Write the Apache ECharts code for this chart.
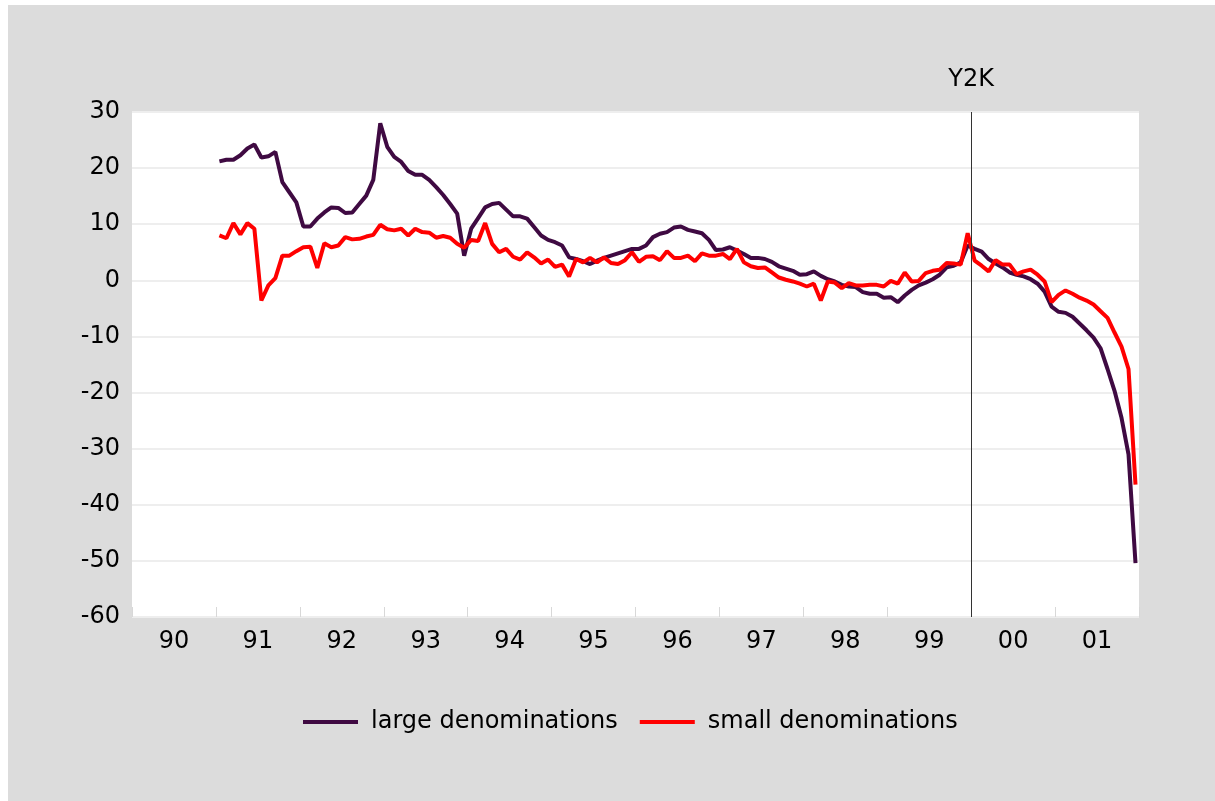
<!DOCTYPE html>
<html>
<head>
<meta charset="utf-8">
<script src="https://cdn.jsdelivr.net/npm/echarts@6/dist/echarts.min.js"></script>
<style>
    html, body { margin: 0; padding: 0; background: #fff; }
    #bg { position: absolute; left: 8px; top: 5px; right: 0; bottom: 0; background: #dcdcdc; }
    #cn { position: absolute; left: 0; top: 0; width: 1215px; height: 801px; }
</style>
</head>
<body>
<div id="bg"></div>
<div id="cn"></div>
<script>
'use strict';

// 年ラベル(90-01)
const arrYears = ['90', '91', '92', '93', '94', '95', '96', '97', '98', '99', '00', '01'];
const firstYear = 1991; // 月次データは1991年1月から
const yTicks = { min: -60, max: 30, step: 10 };

const arrLarge = [
    21.2, 21.5, 21.5, 22.3, 23.5, 24.2, 21.9, 22.1, 22.9, 17.5,
    15.7, 13.9, 9.6, 9.6, 11.0, 12.1, 13.0, 12.9, 12.0, 12.1,
    13.6, 15.1, 17.9, 28.0, 23.8, 22.0, 21.1, 19.5, 18.8, 18.8,
    17.9, 16.6, 15.2, 13.6, 11.9, 4.4, 9.2, 11.1, 13.0, 13.6,
    13.8, 12.6, 11.4, 11.4, 11.0, 9.5, 8.0, 7.2, 6.8, 6.2,
    4.1, 3.8, 3.4, 2.9, 3.5, 4.0, 4.4, 4.8, 5.2, 5.6,
    5.6, 6.2, 7.7, 8.3, 8.6, 9.4, 9.6, 9.0, 8.7, 8.4,
    7.2, 5.4, 5.5, 5.9, 5.3, 4.7, 4.0, 4.0, 3.8, 3.3,
    2.5, 2.1, 1.7, 1.0, 1.1, 1.6, 0.8, 0.2, -0.2, -0.8,
    -1.1, -1.2, -2.1, -2.4, -2.4, -3.1, -3.0, -3.9, -2.7, -1.7,
    -0.9, -0.4, 0.2, 1.0, 2.3, 2.6, 3.2, 6.2, 5.6, 5.1,
    3.8, 3.0, 2.3, 1.4, 1.0, 0.7, 0.2, -0.6, -2.0, -4.7,
    -5.6, -5.8, -6.5, -7.7, -8.9, -10.2, -12.1, -15.8, -19.7, -24.5,
    -31.0, -50.4
];

const arrSmall = [
    8.0, 7.5, 10.2, 8.2, 10.2, 9.2, -3.6, -0.9, 0.4, 4.4,
    4.4, 5.2, 5.9, 6.0, 2.2, 6.6, 5.9, 6.2, 7.7, 7.3,
    7.4, 7.8, 8.1, 9.9, 9.1, 8.9, 9.2, 8.0, 9.2, 8.6,
    8.5, 7.6, 7.9, 7.6, 6.5, 5.8, 7.2, 7.0, 10.2, 6.5,
    5.0, 5.6, 4.2, 3.7, 5.0, 4.1, 3.0, 3.7, 2.4, 2.8,
    0.7, 3.8, 3.2, 4.0, 3.2, 4.1, 3.1, 2.9, 3.6, 5.0,
    3.3, 4.2, 4.3, 3.6, 5.2, 4.0, 4.0, 4.4, 3.4, 4.8,
    4.4, 4.4, 4.7, 3.8, 5.6, 3.2, 2.5, 2.2, 2.3, 1.4,
    0.5, 0.1, -0.2, -0.6, -1.1, -0.6, -3.6, -0.2, -0.4, -1.4,
    -0.5, -0.9, -0.9, -0.8, -0.8, -1.1, -0.1, -0.6, 1.4, -0.2,
    -0.1, 1.3, 1.7, 1.9, 3.1, 3.0, 2.8, 8.4, 3.5, 2.6,
    1.6, 3.6, 2.8, 2.8, 1.1, 1.6, 1.9, 1.0, -0.2, -3.9,
    -2.6, -1.8, -2.4, -3.1, -3.6, -4.3, -5.5, -6.7, -9.3, -11.8,
    -15.8, -36.4
];

const strFont = 'DejaVu Sans';
const colLarge = '#3f0a42';
const colSmall = '#ff0000';

// 月の中央に点を置く
const toPairs = (arr) => arr.map((v, i) => [firstYear + (i + 0.5) / 12, v]);

const optionChart = {
    animation: false,
    textStyle: { fontFamily: strFont },
    grid: {
        left: 132,
        right: 76,
        top: 112,
        bottom: 184,
        show: true,
        backgroundColor: '#ffffff',
        borderWidth: 0
    },
    xAxis: [{
            type: 'category',
            data: arrYears,
            boundaryGap: true,
            position: 'bottom',
            axisLine: { show: false, onZero: false },
            axisTick: {
                show: true,
                inside: true,
                length: 10,
                lineStyle: { color: '#d8d8d8', width: 1 }
            },
            axisLabel: {
                color: '#000',
                fontSize: 24,
                fontFamily: strFont,
                margin: 13
            },
            splitLine: { show: false }
        },
        {
            type: 'value',
            min: 1990,
            max: 2002,
            show: false
        }
    ],
    yAxis: {
        type: 'value',
        min: yTicks.min,
        max: yTicks.max,
        interval: yTicks.step,
        axisLine: { show: false },
        axisTick: { show: false },
        axisLabel: {
            color: '#000',
            fontSize: 24,
            fontFamily: strFont,
            margin: 12
        },
        splitLine: {
            lineStyle: { color: '#eeeeee', width: 2 }
        }
    },
    legend: {
        bottom: 62,
        left: 298,
        itemWidth: 55,
        itemHeight: 4,
        itemGap: 22,
        icon: 'rect',
        textStyle: {
            color: '#000',
            fontSize: 24,
            fontFamily: strFont,
            padding: [0, 0, 0, 8]
        },
        data: ['large denominations', 'small denominations']
    },
    series: [{
            name: 'large denominations',
            type: 'line',
            xAxisIndex: 1,
            data: toPairs(arrLarge),
            showSymbol: false,
            symbol: 'none',
            lineStyle: { color: colLarge, width: 4 },
            itemStyle: { color: colLarge },
            markLine: {
                silent: true,
                symbol: ['none', 'none'],
                lineStyle: { color: '#333', width: 1, type: 'solid' },
                label: {
                    show: true,
                    position: 'end',
                    formatter: 'Y2K',
                    color: '#000',
                    fontSize: 24,
                    fontFamily: strFont,
                    distance: 20
                },
                data: [{ xAxis: 2000 }]
            }
        },
        {
            name: 'small denominations',
            type: 'line',
            xAxisIndex: 1,
            data: toPairs(arrSmall),
            showSymbol: false,
            symbol: 'none',
            lineStyle: { color: colSmall, width: 4 },
            itemStyle: { color: colSmall }
        }
    ]
};

//main
{
    const echartsPanda = echarts.init(document.getElementById('cn'));
    echartsPanda.setOption(optionChart);
}
</script>
</body>
</html>
